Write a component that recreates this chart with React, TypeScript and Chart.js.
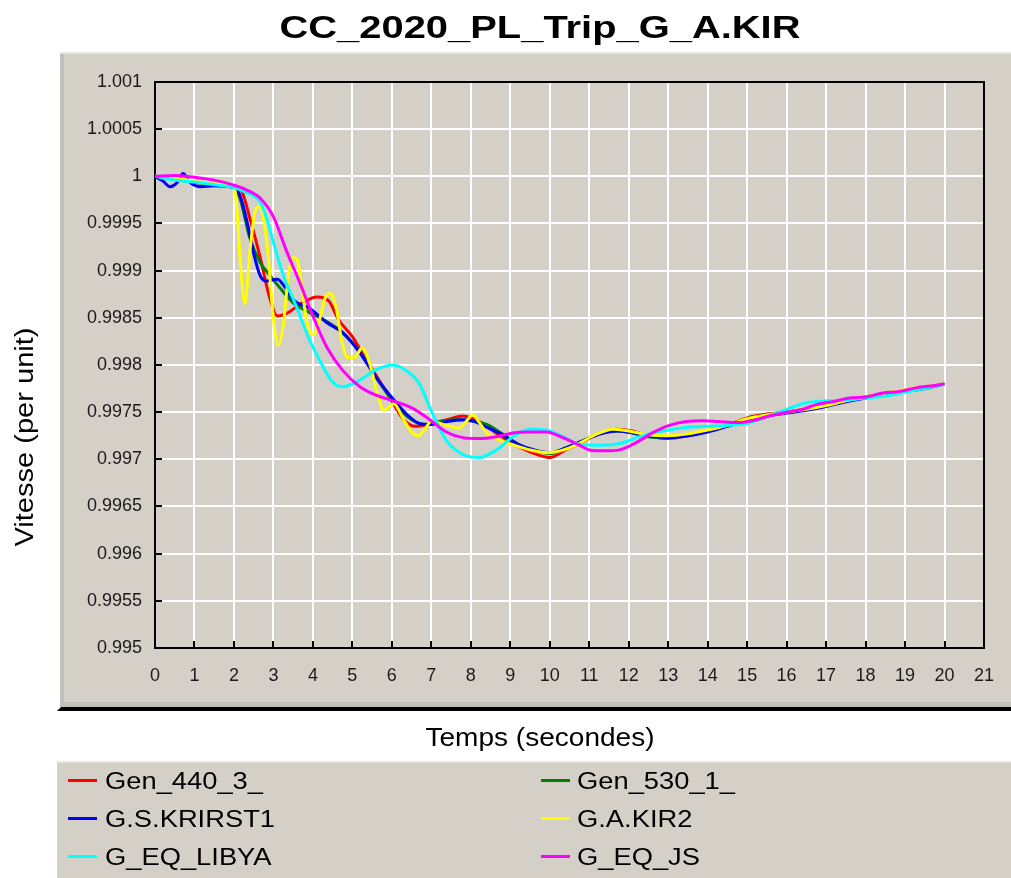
import React, { useEffect, useRef } from 'react';
import { Chart, registerables } from 'chart.js';

Chart.register(...registerables);

const chartTitle = 'CC_2020_PL_Trip_G_A.KIR';
const xAxisTitle = 'Temps (secondes)';
const yAxisTitle = 'Vitesse (per unit)';

const seriesNames = ['Gen_440_3_', 'Gen_530_1_', 'G.S.KRIRST1', 'G.A.KIR2', 'G_EQ_LIBYA', 'G_EQ_JS'];
const seriesColors = ['#ff0000', '#008000', '#0000ff', '#ffff00', '#00ffff', '#ff00ff'];

const gen440Times = [0, 0.5, 1, 1.5, 2, 2.2, 2.4, 2.66, 2.9, 3.1, 3.35, 3.7, 4.1, 4.4, 4.65, 5.0, 5.2, 5.6, 6.0, 6.3, 6.6, 7.0, 7.4, 7.8, 8.3, 8.7, 9.1, 9.5, 10.0, 10.4, 10.8, 11.3, 11.7, 12.1, 12.5, 13.0, 13.5, 14.0, 14.5, 15.0, 15.5, 16.0, 16.5, 17.0, 17.5, 18.0, 18.5, 19.0, 19.5, 20.0];
const gen440Values = [1.0, 0.99997, 0.99994, 0.99991, 0.99989, 0.99984, 0.99956, 0.99915, 0.99872, 0.99852, 0.99855, 0.99865, 0.99872, 0.99868, 0.99848, 0.9983, 0.99816, 0.99789, 0.99762, 0.99742, 0.99735, 0.99738, 0.99742, 0.99746, 0.99738, 0.99726, 0.99716, 0.99708, 0.99702, 0.9971, 0.99718, 0.99728, 0.99732, 0.9973, 0.99725, 0.99722, 0.99725, 0.9973, 0.99736, 0.99744, 0.99748, 0.9975, 0.99753, 0.99757, 0.99762, 0.99766, 0.9977, 0.99773, 0.99776, 0.9978];

const gen530Times = [0, 0.5, 1, 1.5, 2, 2.15, 2.4, 2.66, 2.91, 3.16, 3.5, 3.9, 4.35, 4.76, 5.2, 5.6, 6.0, 6.4, 6.8, 7.2, 7.6, 8.0, 8.4, 8.8, 9.2, 9.6, 10.0, 10.4, 10.8, 11.3, 11.7, 12.1, 12.5, 13.0, 13.5, 14.0, 14.5, 15.0, 15.5, 16.0, 16.5, 17.0, 17.5, 18.0, 18.5, 19.0, 19.5, 20.0];
const gen530Values = [1.0, 0.99997, 0.99994, 0.99991, 0.99989, 0.99977, 0.99935, 0.99909, 0.99895, 0.99882, 0.99866, 0.99856, 0.99846, 0.99834, 0.99813, 0.99787, 0.99763, 0.99745, 0.99737, 0.9974, 0.99742, 0.99741, 0.99737, 0.99727, 0.99716, 0.9971, 0.99706, 0.99712, 0.99719, 0.99728, 0.9973, 0.99728, 0.99724, 0.99723, 0.99725, 0.9973, 0.99736, 0.99743, 0.99747, 0.9975, 0.99753, 0.99757, 0.99762, 0.99766, 0.9977, 0.99773, 0.99776, 0.9978];

const krirstTimes = [0, 0.2, 0.38, 0.55, 0.71, 0.9, 1.14, 1.5, 2.0, 2.15, 2.33, 2.49, 2.66, 2.82, 3.1, 3.3, 3.5, 3.92, 4.35, 4.76, 5.19, 5.6, 6.03, 6.37, 6.7, 7.0, 7.4, 7.8, 8.1, 8.4, 8.8, 9.2, 9.6, 10.0, 10.4, 10.8, 11.3, 11.7, 12.1, 12.5, 13.0, 13.5, 14.0, 14.5, 15.0, 15.5, 16.0, 16.5, 17.0, 17.5, 18.0, 18.5, 19.0, 19.5, 20.0];
const krirstValues = [1.0, 0.99995, 0.99989, 0.99993, 1.00003, 0.99993, 0.99989, 0.9999, 0.99988, 0.9998, 0.99952, 0.9992, 0.99895, 0.99889, 0.99891, 0.99882, 0.99869, 0.9986, 0.99845, 0.99834, 0.99813, 0.99787, 0.99764, 0.99748, 0.99738, 0.99737, 0.9974, 0.99742, 0.9974, 0.99734, 0.99726, 0.99716, 0.9971, 0.99707, 0.99712, 0.99719, 0.99727, 0.9973, 0.99728, 0.99725, 0.99723, 0.99725, 0.99729, 0.99735, 0.99741, 0.99746, 0.99749, 0.99752, 0.99756, 0.99761, 0.99765, 0.99769, 0.99772, 0.99775, 0.9978];

const akir2Times = [0, 0.5, 1, 1.5, 2.0, 2.08, 2.18, 2.28, 2.4, 2.53, 2.65, 2.75, 2.87, 2.98, 3.12, 3.25, 3.38, 3.5, 3.6, 3.72, 3.85, 4.02, 4.17, 4.3, 4.45, 4.6, 4.73, 4.88, 5.05, 5.25, 5.45, 5.62, 5.8, 6.05, 6.3, 6.5, 6.68, 6.85, 7.0, 7.4, 7.7, 7.88, 8.05, 8.2, 8.4, 8.75, 9.1, 9.5, 9.95, 10.35, 10.75, 11.2, 11.6, 12.0, 12.5, 13.0, 13.5, 14.0, 14.5, 15.0, 15.5, 16.0, 16.5, 17.0, 17.5, 18.0, 18.5, 19.0, 19.5, 20.0];
const akir2Values = [1.0, 0.99998, 0.99995, 0.99992, 0.9999, 0.99962, 0.99898, 0.99865, 0.99918, 0.99962, 0.99968, 0.99955, 0.99915, 0.99858, 0.99821, 0.99842, 0.99895, 0.99914, 0.99912, 0.99882, 0.99845, 0.99832, 0.99848, 0.9987, 0.99876, 0.99858, 0.99826, 0.99808, 0.99808, 0.99818, 0.998, 0.99772, 0.99752, 0.99759, 0.99742, 0.99729, 0.99725, 0.99733, 0.9974, 0.99736, 0.99733, 0.9974, 0.99747, 0.9974, 0.99728, 0.9972, 0.99715, 0.9971, 0.99707, 0.9971, 0.99717, 0.99727, 0.99732, 0.9973, 0.99726, 0.99725, 0.99727, 0.99731, 0.99736, 0.99743, 0.99747, 0.9975, 0.99753, 0.99757, 0.99762, 0.99766, 0.9977, 0.99774, 0.99777, 0.9978];

const libyaTimes = [0, 0.5, 1, 1.5, 2.0, 2.3, 2.66, 2.83, 3.0, 3.25, 3.58, 3.92, 4.17, 4.5, 4.76, 5.19, 5.6, 6.03, 6.4, 6.7, 6.96, 7.38, 7.8, 8.22, 8.65, 9.07, 9.49, 9.92, 10.33, 10.75, 11.3, 11.8, 12.2, 12.6, 13.0, 13.5, 14.0, 14.5, 15.0, 15.5, 16.0, 16.5, 17.0, 17.5, 18.0, 18.5, 19.0, 19.5, 20.0];
const libyaValues = [1.0, 0.99996, 0.99994, 0.99991, 0.99988, 0.99983, 0.99973, 0.99955, 0.9993, 0.99895, 0.99862, 0.99826, 0.99805, 0.99782, 0.99777, 0.99784, 0.99795, 0.998, 0.99793, 0.9978, 0.99755, 0.9972, 0.99705, 0.99702, 0.9971, 0.99724, 0.99732, 0.99731, 0.99724, 0.99716, 0.99715, 0.99717, 0.99723, 0.99728, 0.99731, 0.99734, 0.99735, 0.99736, 0.99738, 0.99745, 0.99753, 0.9976, 0.99762, 0.99763, 0.99765, 0.99767, 0.99771, 0.99775, 0.9978];

const jsTimes = [0, 0.5, 1, 1.5, 1.97, 2.3, 2.66, 3.0, 3.33, 3.67, 4.0, 4.35, 4.76, 5.19, 5.6, 6.03, 6.53, 6.96, 7.38, 7.8, 8.22, 8.65, 9.07, 9.49, 9.92, 10.33, 10.75, 11.0, 11.4, 11.77, 12.2, 12.6, 13.03, 13.46, 13.87, 14.3, 14.73, 15.13, 15.56, 16.0, 16.4, 16.75, 17.16, 17.6, 18.0, 18.4, 18.85, 19.3, 19.7, 20.0];
const jsValues = [1.0, 1.00001, 0.99999, 0.99996, 0.99991, 0.99986, 0.99977, 0.99957, 0.99921, 0.99887, 0.99852, 0.99819, 0.99794, 0.99777, 0.99768, 0.99762, 0.99754, 0.99742, 0.99729, 0.99723, 0.99722, 0.99724, 0.99728, 0.99729, 0.99729, 0.99723, 0.99715, 0.9971, 0.99709, 0.9971, 0.99718, 0.99728, 0.99736, 0.9974, 0.99741, 0.9974, 0.99739, 0.99741, 0.99746, 0.9975, 0.99753, 0.99758, 0.99761, 0.99765, 0.99766, 0.9977, 0.99772, 0.99776, 0.99778, 0.9978];

const xMin = 0;
const xMax = 21;
const xStep = 1;
const yTickValues = [0.995, 0.9955, 0.996, 0.9965, 0.997, 0.9975, 0.998, 0.9985, 0.999, 0.9995, 1, 1.0005, 1.001];
const yTickLabels = ['0.995', '0.9955', '0.996', '0.9965', '0.997', '0.9975', '0.998', '0.9985', '0.999', '0.9995', '1', '1.0005', '1.001'];

const seriesTimes = [gen440Times, gen530Times, krirstTimes, akir2Times, libyaTimes, jsTimes];
const seriesValues = [gen440Values, gen530Values, krirstValues, akir2Values, libyaValues, jsValues];
const drawOrder = [6, 5, 4, 3, 2, 1];

const FONT = 'Arial, "Liberation Sans", sans-serif';
const PANEL = '#d4d0c8';

function stretchedText(ctx: CanvasRenderingContext2D, text: string, x: number, y: number, font: string, width: number, align: CanvasTextAlign, rotate = 0) {
  ctx.save();
  ctx.font = font;
  const w = ctx.measureText(text).width;
  const sx = width / w;
  ctx.translate(x, y);
  if (rotate) ctx.rotate(rotate);
  ctx.scale(sx, 1);
  ctx.textAlign = align;
  ctx.textBaseline = 'alphabetic';
  ctx.fillStyle = '#000';
  ctx.fillText(text, 0, 0);
  ctx.restore();
}

const chromePlugin = {
  id: 'chrome',
  beforeDraw(chart: any) {
    const ctx: CanvasRenderingContext2D = chart.ctx;
    const W = chart.width;
    const H = chart.height;
    ctx.save();
    ctx.fillStyle = '#ffffff';
    ctx.fillRect(0, 0, W, H);
    // main panel
    ctx.fillStyle = PANEL;
    ctx.fillRect(60, 52, W - 60, 655);
    ctx.fillStyle = '#c2c0ba';
    ctx.fillRect(60, 52, 4, 655);
    ctx.fillStyle = '#e6e4de';
    ctx.fillRect(60, 52, W - 60, 2);
    ctx.fillStyle = '#c2c0ba';
    ctx.fillRect(60, 702, W - 60, 5);
    ctx.fillStyle = '#000';
    ctx.beginPath();
    ctx.moveTo(61, 707);
    ctx.lineTo(W, 707);
    ctx.lineTo(W, 711);
    ctx.lineTo(57, 711);
    ctx.closePath();
    ctx.fill();
    // legend panel
    ctx.fillStyle = PANEL;
    ctx.fillRect(57, 761, W - 57, H - 761);
    ctx.fillStyle = '#e6e4de';
    ctx.fillRect(57, 761, W - 57, 2);
    ctx.restore();
  },
  beforeDatasetsDraw(chart: any) {
    const ctx: CanvasRenderingContext2D = chart.ctx;
    const a = chart.chartArea;
    const xs = chart.scales.x;
    const ys = chart.scales.y;
    ctx.save();
    ctx.strokeStyle = '#000';
    ctx.lineWidth = 2;
    ctx.strokeRect(a.left, a.top, a.right - a.left, a.bottom - a.top);
    ctx.beginPath();
    ys.ticks.forEach((t: any) => {
      const y = Math.round(ys.getPixelForValue(t.value));
      ctx.moveTo(a.left, y);
      ctx.lineTo(a.left + 7, y);
    });
    xs.ticks.forEach((t: any) => {
      const x = Math.round(xs.getPixelForValue(t.value));
      ctx.moveTo(x, a.bottom);
      ctx.lineTo(x, a.bottom - 7);
    });
    ctx.stroke();
    ctx.restore();
  },
  afterDraw(chart: any) {
    const ctx: CanvasRenderingContext2D = chart.ctx;
    stretchedText(ctx, chartTitle, 540, 38, `bold 32px ${FONT}`, 521, 'center');
    stretchedText(ctx, xAxisTitle, 540, 746, `26px ${FONT}`, 229, 'center');
    stretchedText(ctx, yAxisTitle, 33, 437, `25px ${FONT}`, 219, 'center', -Math.PI / 2);
    // legend
    ctx.save();
    ctx.font = `23px ${FONT}`;
    const sx = 158 / ctx.measureText(seriesNames[0]).width;
    const colLine = [68, 541];
    const colText = [105, 577];
    const rowBase = [789, 827, 865];
    chart.data.datasets.forEach((ds: any, i: number) => {
      const col = i % 2;
      const row = Math.floor(i / 2);
      const base = rowBase[row];
      ctx.fillStyle = ds.borderColor;
      ctx.fillRect(colLine[col], base - 10, 29, 3);
      ctx.save();
      ctx.translate(colText[col], base);
      ctx.scale(sx, 1);
      ctx.fillStyle = '#000';
      ctx.textAlign = 'left';
      ctx.textBaseline = 'alphabetic';
      ctx.fillText(ds.label, 0, 0);
      ctx.restore();
    });
    ctx.restore();
  },
};

export default function App() {
  const canvasRef = useRef<HTMLCanvasElement | null>(null);

  useEffect(() => {
    if (!canvasRef.current) return;
    const datasets = seriesNames.map((name, i) => ({
      label: name,
      data: seriesTimes[i].map((t, k) => ({ x: t, y: seriesValues[i][k] })),
      borderColor: seriesColors[i],
      backgroundColor: seriesColors[i],
      borderWidth: 3,
      pointRadius: 0,
      fill: false,
      cubicInterpolationMode: 'monotone' as const,
      order: drawOrder[i],
    }));

    const chart = new Chart(canvasRef.current, {
      type: 'line',
      data: { datasets },
      plugins: [chromePlugin],
      options: {
        animation: false,
        responsive: false,
        maintainAspectRatio: false,
        devicePixelRatio: 1,
        layout: { padding: { left: 0, top: 82, right: 26, bottom: 0 } },
        plugins: {
          legend: { display: false },
          title: { display: false },
          tooltip: { enabled: false },
        },
        scales: {
          x: {
            type: 'linear',
            min: xMin,
            max: xMax,
            afterFit: (scale: any) => {
              scale.height = 230;
            },
            ticks: {
              stepSize: xStep,
              padding: 17,
              color: '#1a1a1a',
              font: { family: FONT, size: 18 },
              maxRotation: 0,
              autoSkip: false,
            },
            grid: { color: '#ffffff', lineWidth: 2, drawTicks: false },
            border: { display: true, color: '#000000', width: 2 },
          },
          y: {
            type: 'linear',
            min: yTickValues[0],
            max: yTickValues[yTickValues.length - 1],
            afterFit: (scale: any) => {
              scale.width = 155;
            },
            afterBuildTicks: (scale: any) => {
              scale.ticks = yTickValues.map((v) => ({ value: v }));
            },
            ticks: {
              padding: 13,
              color: '#1a1a1a',
              font: { family: FONT, size: 18 },
              autoSkip: false,
              callback: (_v: any, index: number) => yTickLabels[index],
            },
            grid: { color: '#ffffff', lineWidth: 2, drawTicks: false },
            border: { display: true, color: '#000000', width: 2 },
          },
        },
      } as any,
    });
    return () => chart.destroy();
  }, []);

  return (
    <div style={{ position: 'absolute', left: 0, top: 0, width: 1011, height: 878, background: '#fff' }}>
      <canvas ref={canvasRef} width={1011} height={878} style={{ display: 'block' }} />
    </div>
  );
}
